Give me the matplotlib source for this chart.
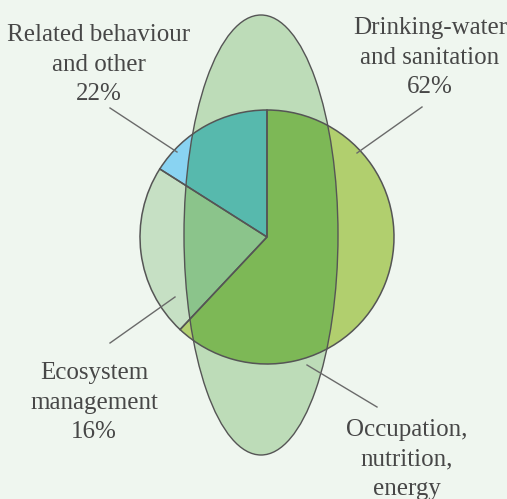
import matplotlib.pyplot as plt
from matplotlib.patches import Ellipse

# slice sizes as drawn (counter-clockwise from 12 o'clock)
slice_names = ['Related behaviour and other', 'Ecosystem management', 'Drinking-water and sanitation']
slice_sizes = [16, 22, 62]
slice_colors = ['#89d3f2', '#c6e0c4', '#b1cf6e']
overlap_colors = ['#57b9ad', '#8bc48b', '#7db856']  # slice seen through the ellipse

# label texts and the percentages printed on them
label_texts = ['Related behaviour\nand other\n22%',
               'Drinking-water\nand sanitation\n62%',
               'Ecosystem\nmanagement\n16%',
               'Occupation,\nnutrition,\nenergy']

W, H = 507, 499
bg = '#eff6ef'
edge = '#555555'
txt_col = '#474747'

fig = plt.figure(figsize=(W / 100, H / 100), dpi=100, facecolor=bg)
ax = fig.add_axes([0, 0, 1, 1])
ax.set_facecolor(bg)


def Y(y):
    # pixel row (from top) -> data y
    return H - y


pie_c = (267, Y(237))
pie_r = 127

# base pie
ax.pie(slice_sizes, colors=slice_colors, startangle=90, counterclock=True,
       center=pie_c, radius=pie_r, wedgeprops=dict(linewidth=0))

# ellipse ("Occupation, nutrition, energy")
ell = Ellipse((261, Y(235)), 154, 440, facecolor='#bddcb8', edgecolor='none', zorder=2)
ax.add_patch(ell)

# slices where the ellipse lies on top of them
wedges, _ = ax.pie(slice_sizes, colors=overlap_colors, startangle=90, counterclock=True,
                   center=pie_c, radius=pie_r, wedgeprops=dict(linewidth=0))
for w in wedges:
    w.set_zorder(3)
    w.set_clip_on(True)
    w.set_clip_path(ell)

# outlines
outl, _ = ax.pie(slice_sizes, colors=['none'] * 3, startangle=90, counterclock=True,
                 center=pie_c, radius=pie_r,
                 wedgeprops=dict(linewidth=1.1, edgecolor=edge, facecolor='none'))
for w in outl:
    w.set_zorder(4)
    w.set_facecolor('none')
ax.add_patch(Ellipse((261, Y(235)), 154, 440, facecolor='none', edgecolor=edge,
                     linewidth=1.0, zorder=4))

# leader lines
leaders = [((110, 108), (177, 152)),
           ((422, 107), (357, 153)),
           ((110, 343), (175, 297)),
           ((307, 365), (377, 407))]
for (x0, y0), (x1, y1) in leaders:
    ax.plot([x0, x1], [Y(y0), Y(y1)], color='#6a6a6a', linewidth=1.0, zorder=5)

# labels (x centre, baseline of last line)
label_pos = [(99, 100), (430, 93), (94, 438), (407, 495)]
for t, (x, y) in zip(label_texts, label_pos):
    ax.text(x, Y(y), t, ha='center', va='baseline', multialignment='center',
            fontsize=18, family='Liberation Serif', color=txt_col, zorder=6,
            linespacing=1.43)

ax.set_xlim(0, W)
ax.set_ylim(0, H)
ax.set_aspect('auto')
ax.axis('off')

fig.savefig('out.png', dpi=100, facecolor=bg)
